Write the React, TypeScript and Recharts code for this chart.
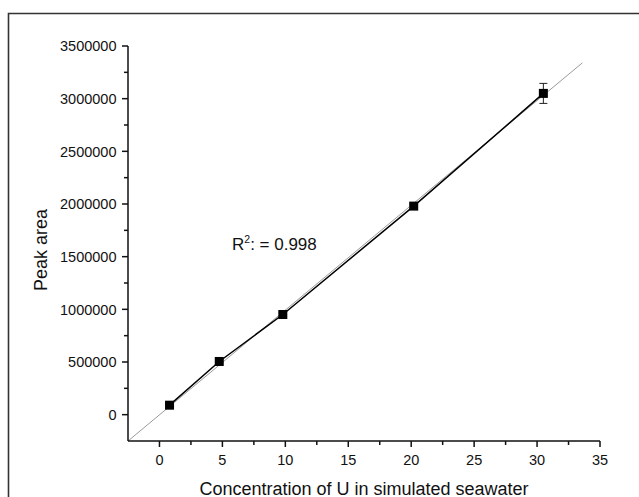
import React from 'react';
import {
  ComposedChart,
  XAxis,
  YAxis,
  Scatter,
  ErrorBar,
  ReferenceLine,
  Customized,
} from 'recharts';

// ---- data ----
const concentrations = [0.8, 4.75, 9.8, 20.2, 30.5];
const peakAreas = [90000, 505000, 951000, 1980000, 3050000];
const peakErrors = [15000, 15000, 15000, 20000, 95000];

const fitStart = { x: -2.5, y: -250000 };
const fitEnd = { x: 33.6, y: 3340000 };

const xTicks = [0, 2.5, 5, 7.5, 10, 12.5, 15, 17.5, 20, 22.5, 25, 27.5, 30, 32.5, 35];
const xMajor = [0, 5, 10, 15, 20, 25, 30, 35];
const yTicks = [
  0, 250000, 500000, 750000, 1000000, 1250000, 1500000, 1750000, 2000000,
  2250000, 2500000, 2750000, 3000000, 3250000, 3500000,
];
const yMajor = [0, 500000, 1000000, 1500000, 2000000, 2500000, 3000000, 3500000];

const xTitle = 'Concentration of U in simulated seawater';
const yTitle = 'Peak area';
const r2Value = '0.998';

const points = concentrations.map((x, i) => ({ x, y: peakAreas[i], err: peakErrors[i] }));

const FONT = '"Liberation Sans", Arial, sans-serif';

const XTick = (props: any) => {
  const { x, y, payload } = props;
  const v = payload.value;
  const major = xMajor.includes(v);
  return (
    <g>
      <line x1={x} x2={x} y1={y} y2={y + (major ? 6 : 4)} stroke="#111" strokeWidth={1.5} />
      {major && (
        <text x={x} y={y + 24} textAnchor="middle" fontSize={14.5} fontFamily={FONT} fill="#111">
          {v}
        </text>
      )}
    </g>
  );
};

const YTick = (props: any) => {
  const { x, y, payload } = props;
  const v = payload.value;
  const major = yMajor.includes(v);
  return (
    <g>
      <line x1={x} x2={x - (major ? 6 : 4)} y1={y} y2={y} stroke="#111" strokeWidth={1.5} />
      {major && (
        <text x={x - 11.5} y={y + 5.2} textAnchor="end" fontSize={14.5} fontFamily={FONT} fill="#111">
          {v}
        </text>
      )}
    </g>
  );
};

const Square = (props: any) => {
  const { cx, cy } = props;
  return <rect x={cx - 4.5} y={cy - 4.5} width={9} height={9} fill="#000" />;
};

const Extras = () => (
  <g>
    <path d="M 8.5 497 L 8.5 13.5 L 639 13.5" fill="none" stroke="#333" strokeWidth={1.6} />
    <text x={364} y={494.5} textAnchor="middle" fontSize={18} fontFamily={FONT} fill="#111">
      {xTitle}
    </text>
    <text
      x={41}
      y={250}
      transform="rotate(-90, 41, 250)"
      textAnchor="middle"
      dominantBaseline="central"
      fontSize={18}
      fontFamily={FONT}
      fill="#111"
    >
      {yTitle}
    </text>
    <text x={232} y={250} fontSize={17} fontFamily={FONT} fill="#111">
      R
      <tspan dy={-7} fontSize={10.5}>2</tspan>
      <tspan dy={7}>{': = ' + r2Value}</tspan>
    </text>
  </g>
);

export default function App() {
  return (
    <div style={{ position: 'absolute', left: 0, top: 0, width: 639, height: 497, overflow: 'hidden', background: '#fff' }}>
      <ComposedChart
        width={639}
        height={497}
        margin={{ top: 46, right: 39, bottom: 26, left: 0 }}
      >
        <XAxis
          dataKey="x"
          type="number"
          domain={[-2.5, 35]}
          ticks={xTicks}
          allowDataOverflow
          height={30}
          tickSize={0}
          tickMargin={0}
          tickLine={false}
          tick={<XTick />}
          axisLine={{ stroke: '#111', strokeWidth: 1.5 }}
          interval={0}
        />
        <YAxis
          dataKey="y"
          type="number"
          domain={[-250000, 3500000]}
          ticks={yTicks}
          allowDataOverflow
          width={128}
          tickSize={0}
          tickMargin={0}
          tickLine={false}
          tick={<YTick />}
          axisLine={{ stroke: '#111', strokeWidth: 1.5 }}
          interval={0}
        />
        <ReferenceLine
          segment={[fitStart, fitEnd]}
          stroke="#9a9a9a"
          strokeWidth={1}
          ifOverflow="visible"
        />
        <Scatter
          data={points}
          dataKey="y"
          line={{ stroke: '#000', strokeWidth: 1.5 }}
          shape={<Square />}
          isAnimationActive={false}
        >
          <ErrorBar dataKey="err" direction="y" width={4} stroke="#222" strokeWidth={1} isAnimationActive={false} />
        </Scatter>
        <Customized component={<Extras />} />
      </ComposedChart>
    </div>
  );
}
